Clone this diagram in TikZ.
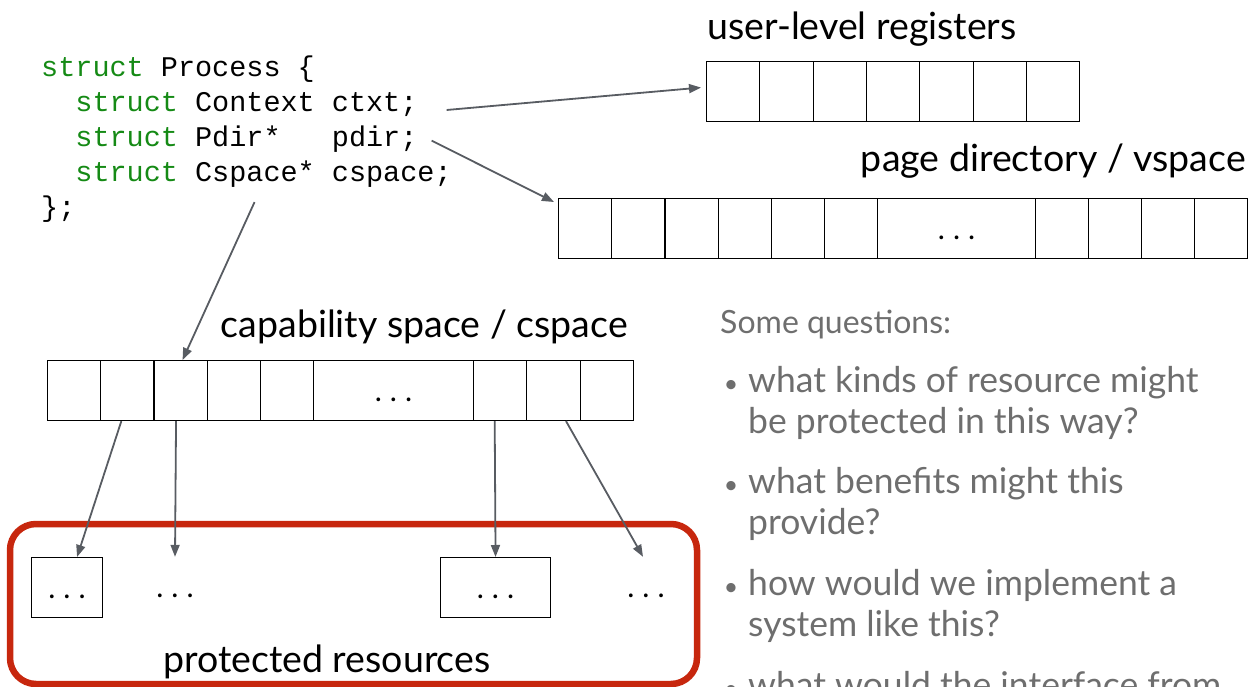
\documentclass[tikz,border=0pt]{standalone}
\usepackage{fontspec}
\setmainfont{Lato}
\setmonofont{Liberation Mono}
\usetikzlibrary{arrows.meta}
\definecolor{codegreen}{HTML}{158A15}
\definecolor{arrowgray}{HTML}{585C62}
\definecolor{qgray}{HTML}{6E6E6E}
\definecolor{boxred}{HTML}{C7270E}

\tikzset{
  cell/.style={draw, line width=1.1pt, minimum height=60pt, inner sep=0pt, anchor=north west},
  code/.style={anchor=base west, inner sep=0pt, font=\ttfamily\fontsize{28.5}{35}\selectfont},
  label/.style={inner sep=0pt, font=\fontsize{37.5}{44}\selectfont},
  question/.style={anchor=base west, inner sep=0pt, text=qgray, font=\fontsize{35.5}{41}\selectfont},
  arr/.style={draw=arrowgray, line width=1.8pt, -{Triangle[length=12pt,width=9pt]}},
}
\newcommand{\kw}[1]{\textcolor{codegreen}{#1}}
\newcommand{\more}{\vphantom{A}.\hspace{8pt}.\hspace{8pt}.}

\begin{document}
\begin{tikzpicture}[x=1pt, y=-1pt, font=\fontsize{30}{36}\selectfont]
    \useasboundingbox (0, 0) rectangle (1256, 687);

    % the process record
    \node[code] (proc) at (41, 77) {\kw{struct} Process \{};
    \node[code] (ctxt) at (75.2, 112) {\kw{struct} Context ctxt;};
    \node[code] (pdir) at (75.2, 147) {\kw{struct} Pdir*\ \ \ pdir;};
    \node[code] (cspace) at (75.2, 182) {\kw{struct} Cspace* cspace;};
    \node[code] (close) at (41, 217) {\};};

    % user-level registers
    \node[label, anchor=base west] (reglabel) at (707, 40) {user-level registers};
    \foreach \i in {1,...,7}
        \node[cell, minimum width=53.3pt] (reg\i) at ({706 + 53.3*(\i-1)}, 61) {};

    % page directory / vspace
    \node[label, anchor=base east] (pdlabel) at (1246, 172) {page directory / vspace};
    \foreach \i in {1,...,6}
        \node[cell, minimum width=53.2pt] (pd\i) at ({558 + 53.2*(\i-1)}, 198) {};
    \node[cell, minimum width=158pt] (pd7) at (877, 198) {\more};
    \foreach \i in {8,...,11}
        \node[cell, minimum width=53pt] (pd\i) at ({1035 + 53*(\i-8)}, 198) {};

    % capability space / cspace
    \node[label, anchor=base east] (cslabel) at (628, 337) {capability space / cspace};
    \foreach \i in {1,...,5}
        \node[cell, minimum width=53.2pt] (cs\i) at ({47 + 53.2*(\i-1)}, 360) {};
    \node[cell, minimum width=160pt] (cs6) at (313, 360) {\more};
    \foreach \i in {7,...,9}
        \node[cell, minimum width=53.3pt] (cs\i) at ({473 + 53.3*(\i-7)}, 360) {};

    % protected resources
    \draw[boxred, line width=6.5pt, rounded corners=26pt] (10, 524) rectangle (697, 684);
    \node[label, anchor=base west] (prlabel) at (163, 672) {protected resources};
    \node[cell, minimum width=71pt] (res1) at (31, 557) {\more};
    \node[minimum height=60pt, inner sep=0pt] (res2) at (175, 587) {\more};
    \node[cell, minimum width=110pt] (res3) at (440, 557) {\more};
    \node[minimum height=60pt, inner sep=0pt] (res4) at (646, 587) {\more};

    % pointers
    \draw[arr] ([xshift=29pt, yshift=-5pt]ctxt.east) -- ([xshift=-5pt, yshift=4pt]reg1.west);
    \draw[arr] ([xshift=14pt, yshift=-1pt]pdir.east) -- ([xshift=-4pt, yshift=-4pt]pd1.north west);
    \draw[arr] ([xshift=-9pt, yshift=-14pt]cspace.south) -- ([xshift=2pt]cs3.north);
    \draw[arr] ([xshift=-6pt]cs2.south) -- ([xshift=10pt]res1.north);
    \draw[arr] ([xshift=-4.5pt]cs3.south) -- (res2.north);
    \draw[arr] ([xshift=-5.5pt]cs7.south) -- (res3.north);
    \draw[arr] ([xshift=12.5pt]cs8.south) -- ([xshift=-3pt]res4.north);

    % questions
    \node[question, font=\fontsize{32}{41}\selectfont] (q0) at (720, 333) {Some questions:};
    \node[question] (q1) at (748, 392) {\llap{\scalebox{0.7}{•}\hspace{10pt}}what kinds of resource might};
    \node[question] (q1b) at (748, 433) {be protected in this way?};
    \node[question] (q2) at (748, 493) {\llap{\scalebox{0.7}{•}\hspace{10pt}}what benefits might this};
    \node[question] (q2b) at (748, 534) {provide?};
    \node[question] (q3) at (748, 595) {\llap{\scalebox{0.7}{•}\hspace{10pt}}how would we implement a};
    \node[question] (q3b) at (748, 636) {system like this?};
    \node[question] (q4) at (748, 697) {\llap{\scalebox{0.7}{•}\hspace{10pt}}what would the interface from};
\end{tikzpicture}
\end{document}
